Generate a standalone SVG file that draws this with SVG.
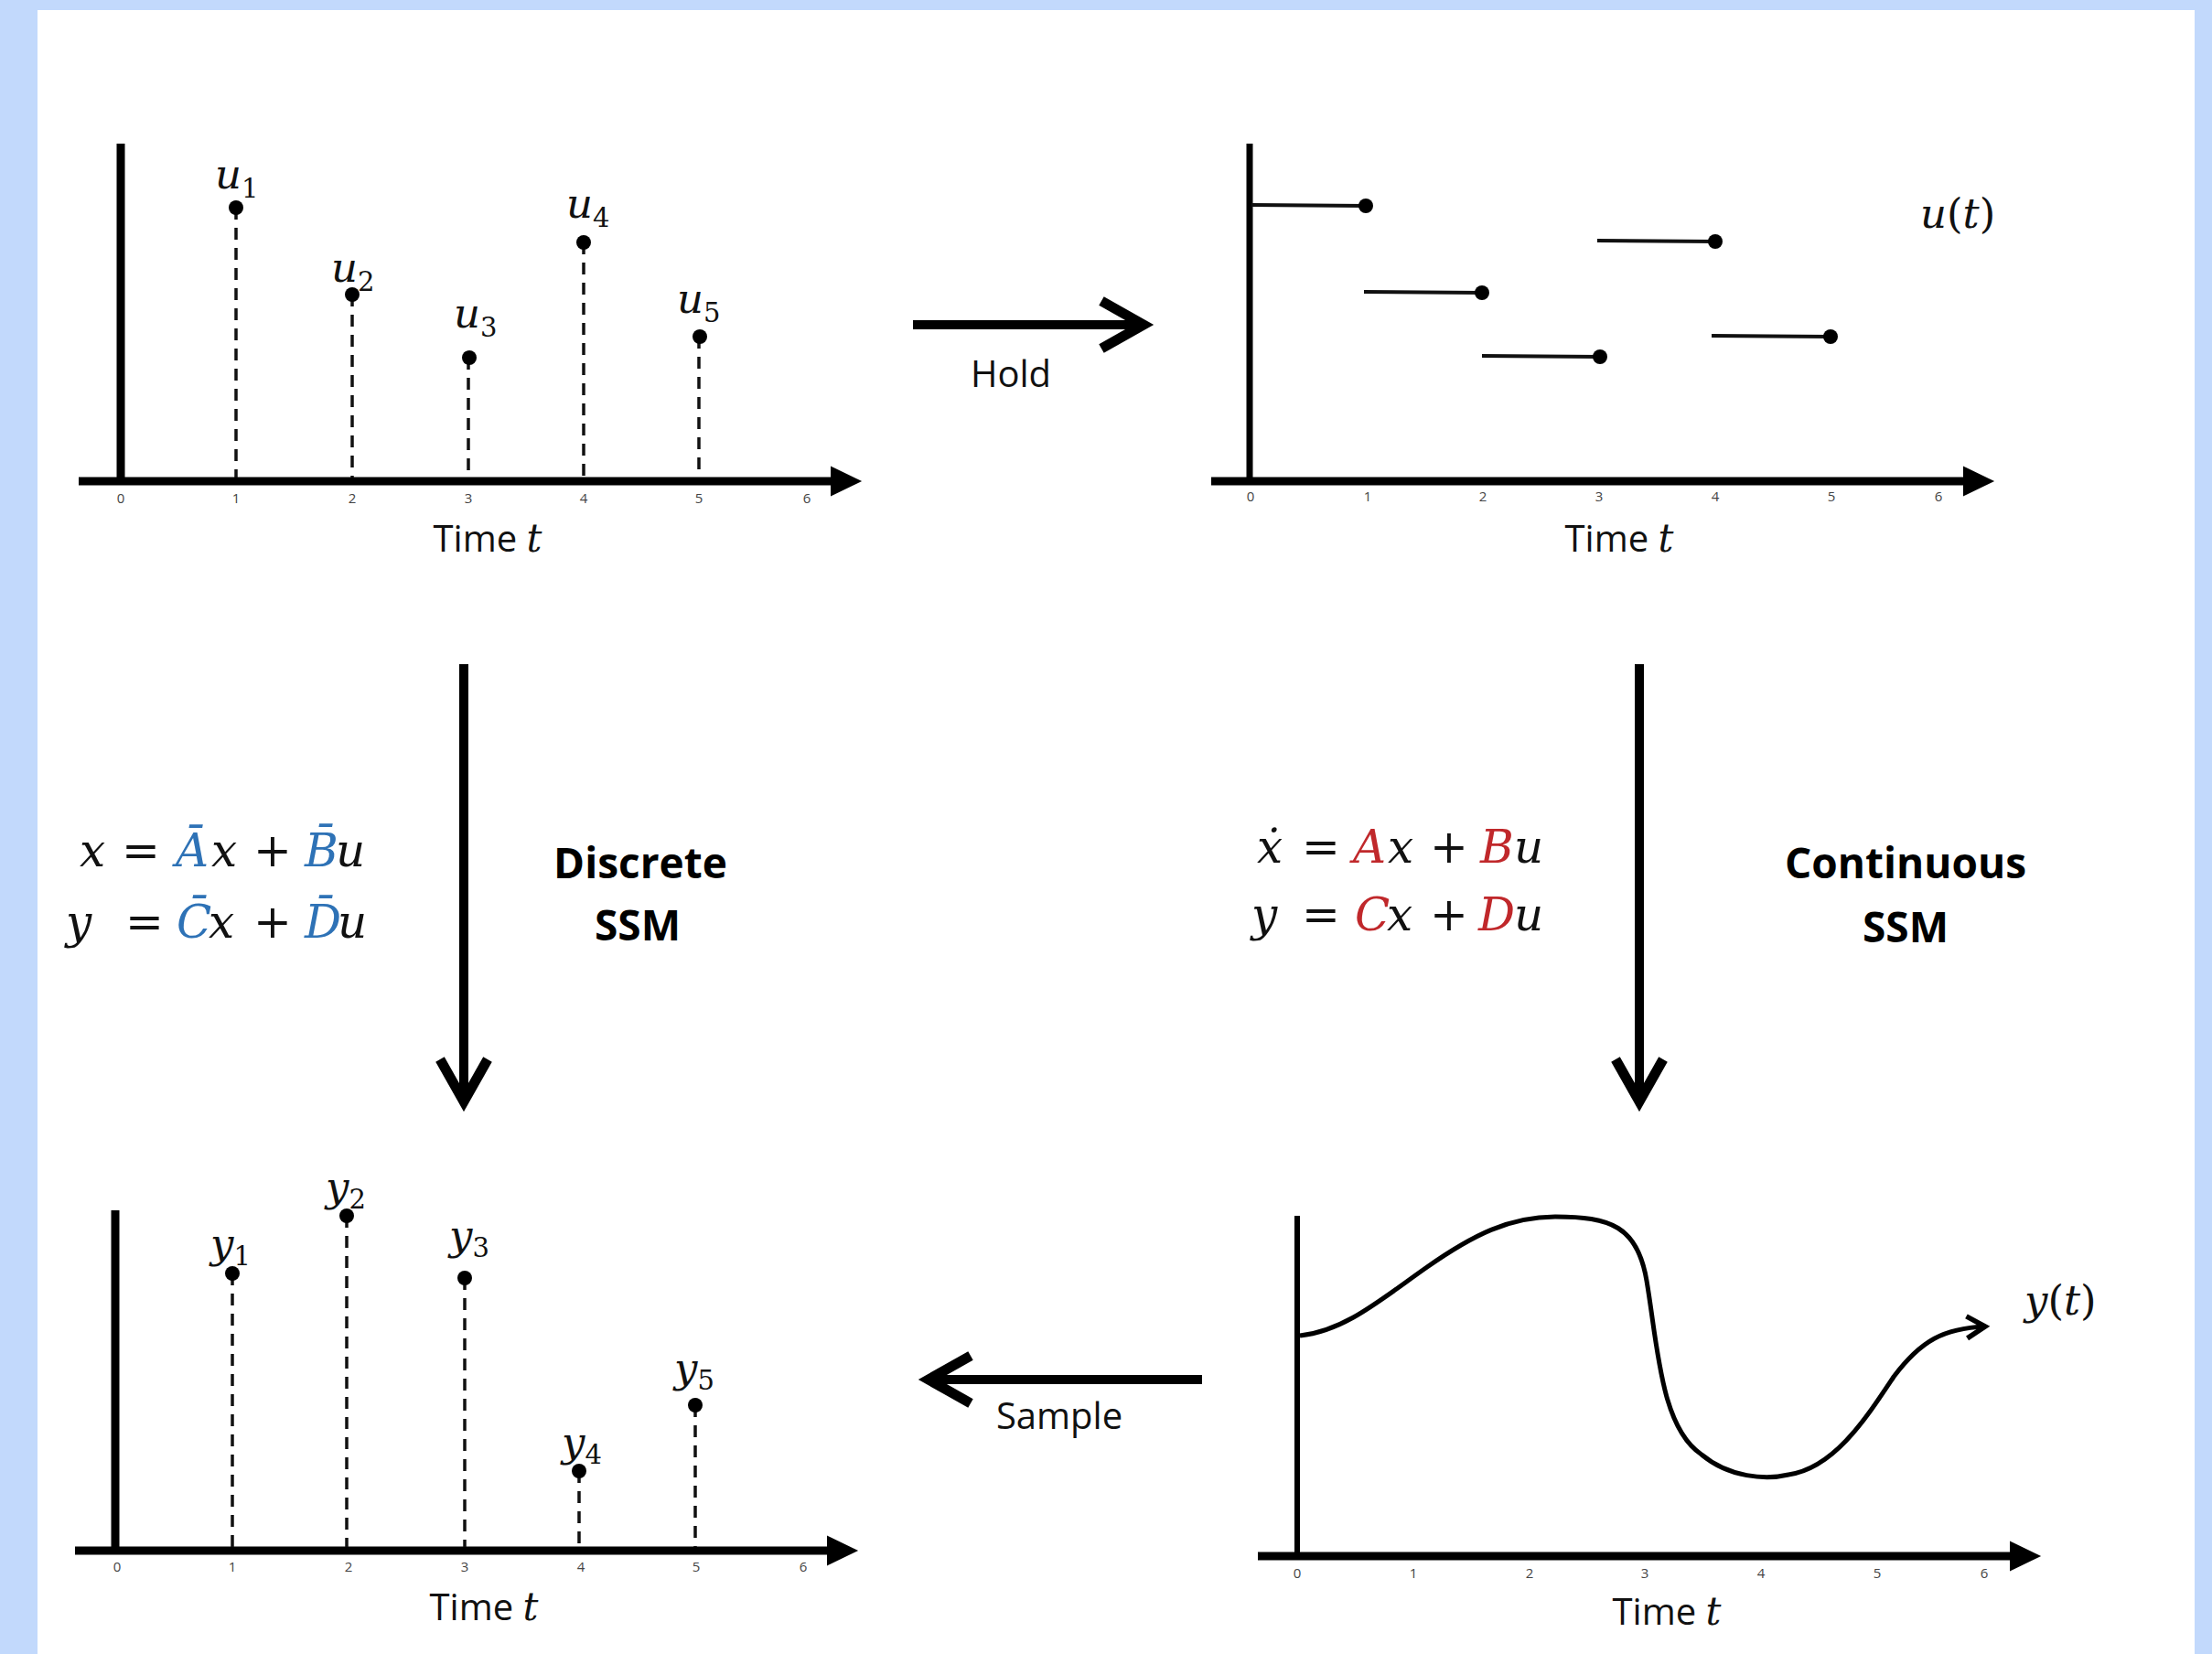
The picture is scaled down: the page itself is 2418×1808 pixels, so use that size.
<svg xmlns="http://www.w3.org/2000/svg" width="2418" height="1808" viewBox="0 0 2418 1808">
<style>
.axis{stroke:#000;stroke-width:9;fill:none}
.axisthin{stroke:#000;stroke-width:6;fill:none}
.dash{stroke:#111;stroke-width:3.5;stroke-dasharray:13 9;fill:none}
.seg{stroke:#111;stroke-width:4;fill:none}
.dot{fill:#000}
.tick{font-family:"Open Sans","Liberation Sans",sans-serif;font-size:15px;fill:#444;text-anchor:middle}
.lbl{font-family:"Open Sans","Liberation Sans",sans-serif;font-size:40px;fill:#111}
.time{font-family:"Open Sans","Liberation Sans",sans-serif;font-size:40px;fill:#111;text-anchor:middle}
.bold{font-family:"Open Sans","Liberation Sans",sans-serif;font-size:46px;font-weight:bold;fill:#000;text-anchor:middle}
.m{font-family:"DejaVu Serif","Liberation Serif",serif;font-style:italic;font-size:45px;fill:#111}
.eq{font-family:"DejaVu Serif","Liberation Serif",serif;font-style:italic;font-size:50px;fill:#111}
.up{font-style:normal}
.sub{font-style:normal;font-size:29px}
.blue{fill:#2e72b6}
.red{fill:#c0282b}
.conn{stroke:#000;stroke-width:10;fill:none}
</style>
<defs>
<marker id="tri" markerUnits="userSpaceOnUse" markerWidth="40" markerHeight="40" refX="0" refY="0" viewBox="-2 -16 34 32" orient="auto" overflow="visible">
<path d="M0,-14 L29,0 L0,14 Z" fill="#000"/>
</marker>
<marker id="chev" markerUnits="userSpaceOnUse" markerWidth="80" markerHeight="80" refX="0" refY="0" viewBox="-60 -40 80 80" orient="auto" overflow="visible">
<path d="M-46,-26 L0,0 L-46,26" fill="none" stroke="#000" stroke-width="11" stroke-linejoin="miter" stroke-miterlimit="4"/>
</marker>
<marker id="chevs" markerUnits="userSpaceOnUse" markerWidth="40" markerHeight="40" refX="0" refY="0" viewBox="-30 -20 40 40" orient="auto" overflow="visible">
<path d="M-20,-12 L0,0 L-20,12" fill="none" stroke="#000" stroke-width="5.5" stroke-linejoin="miter"/>
</marker>
</defs>

<rect x="0" y="0" width="2418" height="1808" fill="#c2d9fc"/>
<rect x="41" y="11" width="2358" height="1797" fill="#ffffff"/>

<!-- Top-left: discrete input u_k -->
<g id="panel-discrete-input">
<line class="axis" x1="132" y1="157" x2="132" y2="530"/>
<line class="axis" x1="86" y1="526" x2="908" y2="526" marker-end="url(#tri)"/>
<line class="dash" x1="258" y1="227" x2="258" y2="522"/>
<line class="dash" x1="385" y1="322" x2="385" y2="522"/>
<line class="dash" x1="512" y1="391" x2="512" y2="522"/>
<line class="dash" x1="638" y1="265" x2="638" y2="522"/>
<line class="dash" x1="764" y1="368" x2="764" y2="522"/>
<circle class="dot" cx="258" cy="227" r="8"/>
<circle class="dot" cx="385" cy="322" r="8"/>
<circle class="dot" cx="513" cy="391" r="8"/>
<circle class="dot" cx="638" cy="265" r="8"/>
<circle class="dot" cx="765" cy="368" r="8"/>
<text class="m" x="235" y="206">u<tspan class="sub" dy="10">1</tspan></text>
<text class="m" x="362" y="308">u<tspan class="sub" dy="10">2</tspan></text>
<text class="m" x="496" y="358">u<tspan class="sub" dy="10">3</tspan></text>
<text class="m" x="619" y="238">u<tspan class="sub" dy="10">4</tspan></text>
<text class="m" x="740" y="342">u<tspan class="sub" dy="10">5</tspan></text>
<text class="tick" y="550"><tspan x="132">0</tspan><tspan x="258">1</tspan><tspan x="385">2</tspan><tspan x="512">3</tspan><tspan x="638">4</tspan><tspan x="764">5</tspan><tspan x="882">6</tspan></text>
<text class="time" x="533" y="603">Time <tspan class="m" style="font-size:42px">t</tspan></text>
</g>

<!-- Top-right: continuous input u(t) -->
<g id="panel-continuous-input">
<line class="axisthin" x1="1366" y1="157" x2="1366" y2="530" style="stroke-width:7"/>
<line class="axis" x1="1324" y1="526" x2="2146" y2="526" marker-end="url(#tri)"/>
<line class="seg" x1="1368" y1="224" x2="1493" y2="225"/>
<line class="seg" x1="1491" y1="319" x2="1620" y2="320"/>
<line class="seg" x1="1620" y1="389" x2="1749" y2="390"/>
<line class="seg" x1="1746" y1="263" x2="1875" y2="264"/>
<line class="seg" x1="1871" y1="367" x2="2001" y2="368"/>
<circle class="dot" cx="1493" cy="225" r="8"/>
<circle class="dot" cx="1620" cy="320" r="8"/>
<circle class="dot" cx="1749" cy="390" r="8"/>
<circle class="dot" cx="1875" cy="264" r="8"/>
<circle class="dot" cx="2001" cy="368" r="8"/>
<text class="m" x="2099" y="249">u<tspan class="up">(</tspan>t<tspan class="up">)</tspan></text>
<text class="tick" y="548"><tspan x="1367">0</tspan><tspan x="1495">1</tspan><tspan x="1621">2</tspan><tspan x="1748">3</tspan><tspan x="1875">4</tspan><tspan x="2002">5</tspan><tspan x="2119">6</tspan></text>
<text class="time" x="1770" y="603">Time <tspan class="m" style="font-size:42px">t</tspan></text>
</g>

<!-- Discrete SSM equations -->
<g id="eq-discrete">
<text class="eq" y="947"><tspan x="87">x</tspan><tspan class="up" x="133">=</tspan><tspan class="blue" x="192">Ā</tspan><tspan x="231">x</tspan><tspan class="up" x="277">+</tspan><tspan class="blue" x="333">B̄</tspan><tspan x="367">u</tspan></text>
<text class="eq" y="1025"><tspan x="72">y</tspan><tspan class="up" x="137">=</tspan><tspan class="blue" x="193">C̄</tspan><tspan x="228">x</tspan><tspan class="up" x="277">+</tspan><tspan class="blue" x="333">D̄</tspan><tspan x="369">u</tspan></text>
<text class="bold" x="700" y="960">Discrete</text>
<text class="bold" x="697" y="1028">SSM</text>
</g>

<!-- Continuous SSM equations -->
<g id="eq-continuous">
<text class="eq" y="943"><tspan x="1374">ẋ</tspan><tspan class="up" x="1423">=</tspan><tspan class="red" x="1479">A</tspan><tspan x="1517">x</tspan><tspan class="up" x="1563">+</tspan><tspan class="red" x="1618">B</tspan><tspan x="1655">u</tspan></text>
<text class="eq" y="1017"><tspan x="1368">y</tspan><tspan class="up" x="1423">=</tspan><tspan class="red" x="1481">C</tspan><tspan x="1516">x</tspan><tspan class="up" x="1563">+</tspan><tspan class="red" x="1616">D</tspan><tspan x="1655">u</tspan></text>
<text class="bold" x="2083" y="960">Continuous</text>
<text class="bold" x="2083" y="1030">SSM</text>
</g>

<!-- Bottom-right: continuous output y(t) -->
<g id="panel-continuous-output">
<line class="axisthin" x1="1418" y1="1329" x2="1418" y2="1705"/>
<line class="axis" x1="1375" y1="1701" x2="2197" y2="1701" marker-end="url(#tri)"/>
<path d="M1421,1460 C1470,1455 1510,1420 1560,1385 C1610,1350 1650,1330 1700,1330 C1760,1330 1790,1340 1800,1400 C1812,1470 1815,1560 1860,1590 C1890,1615 1930,1618 1955,1612 C2005,1605 2040,1550 2070,1505 C2100,1465 2125,1452 2170,1450" fill="none" stroke="#000" stroke-width="5" marker-end="url(#chevs)"/>
<text class="m" x="2213" y="1437">y<tspan class="up">(</tspan>t<tspan class="up">)</tspan></text>
<text class="tick" y="1725"><tspan x="1418">0</tspan><tspan x="1545">1</tspan><tspan x="1672">2</tspan><tspan x="1798">3</tspan><tspan x="1925">4</tspan><tspan x="2052">5</tspan><tspan x="2169">6</tspan></text>
<text class="time" x="1822" y="1776">Time <tspan class="m" style="font-size:42px">t</tspan></text>
</g>

<!-- Bottom-left: discrete output y_k -->
<g id="panel-discrete-output">
<line class="axis" x1="126" y1="1323" x2="126" y2="1699"/>
<line class="axis" x1="82" y1="1695" x2="904" y2="1695" marker-end="url(#tri)"/>
<line class="dash" x1="254" y1="1392" x2="254" y2="1691"/>
<line class="dash" x1="379" y1="1329" x2="379" y2="1691"/>
<line class="dash" x1="508" y1="1397" x2="508" y2="1691"/>
<line class="dash" x1="633" y1="1608" x2="633" y2="1691"/>
<line class="dash" x1="760" y1="1536" x2="760" y2="1691"/>
<circle class="dot" cx="254" cy="1392" r="8"/>
<circle class="dot" cx="379" cy="1329" r="8"/>
<circle class="dot" cx="508" cy="1397" r="8"/>
<circle class="dot" cx="633" cy="1608" r="8"/>
<circle class="dot" cx="760" cy="1536" r="8"/>
<text class="m" x="230" y="1375">y<tspan class="sub" dy="8">1</tspan></text>
<text class="m" x="356" y="1313">y<tspan class="sub" dy="8">2</tspan></text>
<text class="m" x="491" y="1366">y<tspan class="sub" dy="8">3</tspan></text>
<text class="m" x="614" y="1592">y<tspan class="sub" dy="8">4</tspan></text>
<text class="m" x="737" y="1511">y<tspan class="sub" dy="8">5</tspan></text>
<text class="tick" y="1718"><tspan x="128">0</tspan><tspan x="254">1</tspan><tspan x="381">2</tspan><tspan x="508">3</tspan><tspan x="635">4</tspan><tspan x="761">5</tspan><tspan x="878">6</tspan></text>
<text class="time" x="529" y="1771">Time <tspan class="m" style="font-size:42px">t</tspan></text>
</g>

<!-- Connectors -->
<g id="connectors">
<line class="conn" x1="998" y1="355" x2="1250" y2="355" marker-end="url(#chev)"/>
<text class="lbl" x="1105" y="423" text-anchor="middle">Hold</text>
<line class="conn" x1="1792" y1="726" x2="1792" y2="1204" marker-end="url(#chev)"/>
<line class="conn" x1="1314" y1="1508" x2="1015" y2="1508" marker-end="url(#chev)"/>
<text class="lbl" x="1158" y="1562" text-anchor="middle">Sample</text>
<line class="conn" x1="507" y1="726" x2="507" y2="1204" marker-end="url(#chev)"/>
</g>
</svg>
